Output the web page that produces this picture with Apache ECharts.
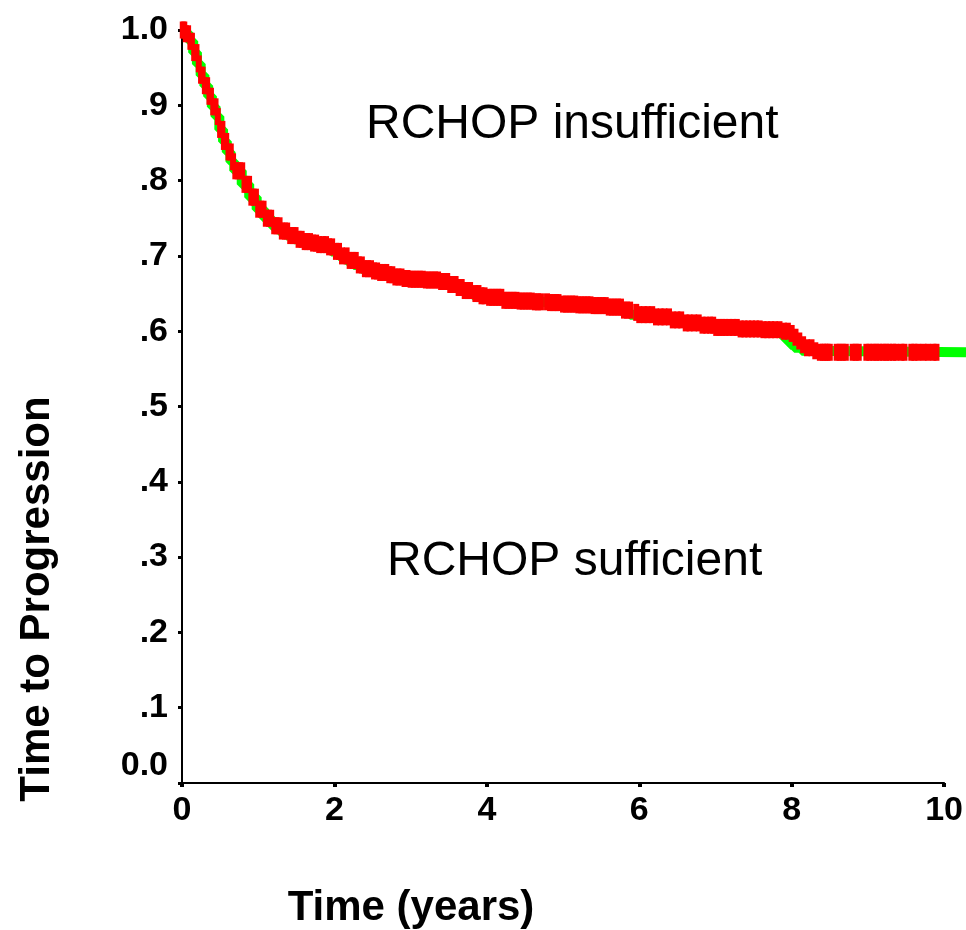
<!DOCTYPE html>
<html>
<head>
<meta charset="utf-8">
<script src="https://cdn.jsdelivr.net/npm/echarts@6/dist/echarts.min.js"></script>
<style>
html,body{margin:0;padding:0;background:#fff;}
#chart{width:966px;height:930px;}
</style>
</head>
<body>
<div id="chart"></div>
<script>
// Kaplan-Meier step curve: event times (years) and survival after each event
const kmTimes = [0,0.05,0.1,0.15,0.2,0.25,0.3,0.35,0.4,0.45,0.5,0.55,0.6,0.65,0.7,0.8,0.9,1.0,1.1,1.2,1.3,1.4,1.5,1.6,1.7,1.8,1.9,2.0,2.1,2.2,2.3,2.4,2.5,2.6,2.7,2.8,2.9,3.0,3.2,3.4,3.5,3.6,3.7,3.8,3.9,4.0,4.2,4.4,4.6,4.8,5.0,5.2,5.4,5.6,5.8,5.9,6.0,6.2,6.4,6.6,6.8,7.0,7.3,7.6,7.9,8.0,8.05,8.1,8.15,8.2,8.3,8.35,10.5];
const kmSurv  = [1.0,0.995,0.985,0.97,0.955,0.94,0.926,0.912,0.898,0.885,0.868,0.852,0.838,0.825,0.813,0.795,0.778,0.762,0.750,0.740,0.733,0.727,0.722,0.719,0.717,0.715,0.712,0.706,0.700,0.694,0.688,0.683,0.680,0.678,0.675,0.672,0.670,0.669,0.668,0.666,0.662,0.658,0.654,0.650,0.647,0.645,0.641,0.640,0.639,0.638,0.636,0.635,0.634,0.632,0.628,0.625,0.622,0.619,0.615,0.611,0.608,0.605,0.603,0.602,0.600,0.597,0.592,0.587,0.582,0.578,0.574,0.572,0.572];

// Censoring times (years)
const censorTimes = [
0.01,0.03,0.05,0.08,0.11,0.13,0.16,0.19,0.22,0.25,0.27,0.30,0.33,0.36,0.38,0.41,0.44,0.47,0.50,0.53,0.55,0.58,0.61,0.64,0.67,0.70,0.73,0.76,0.79,0.82,0.85,0.88,0.91,0.94,0.97,
1.00,1.04,1.07,1.10,1.14,1.17,1.21,1.24,1.28,1.31,1.35,1.38,1.42,1.46,1.49,1.53,1.57,1.61,1.64,1.68,1.72,1.76,1.80,1.85,1.89,1.93,1.97,
2.02,2.06,2.10,2.16,2.20,2.24,2.28,2.32,2.36,2.40,2.44,2.48,2.52,2.56,2.60,2.64,2.68,2.72,2.76,2.80,2.84,2.88,2.92,2.96,
3.00,3.04,3.08,3.12,3.16,3.20,3.24,3.28,3.32,3.36,3.40,3.44,3.48,3.52,3.59,3.63,3.67,3.71,3.75,3.78,3.85,3.89,3.93,3.97,
4.03,4.07,4.11,4.15,4.19,4.23,4.27,4.31,4.35,4.39,4.43,4.47,4.51,4.55,4.59,4.63,4.67,4.71,4.79,4.83,4.87,4.91,4.94,5.00,
5.04,5.08,5.12,5.16,5.20,5.24,5.28,5.32,5.36,5.40,5.44,5.48,5.52,5.56,5.60,5.64,5.68,5.72,5.76,5.80,5.84,5.88,5.96,
6.00,6.06,6.11,6.17,6.22,6.28,6.33,6.39,6.44,6.50,6.55,6.61,6.66,6.72,6.78,6.83,6.88,6.93,6.97,7.01,7.05,7.09,7.13,7.18,7.23,7.28,7.33,7.38,7.43,7.48,7.53,7.58,7.63,7.68,7.73,7.78,7.84,7.90,7.95,
8.00,8.05,8.10,8.15,8.20,8.26,8.31,
8.37,8.41,8.44,8.47,8.50,8.59,8.63,8.67,8.71,8.80,8.84,8.88,8.98,9.02,9.07,9.11,9.15,9.20,9.24,9.28,9.33,9.37,9.44,9.48,9.57,9.61,9.66,9.73,9.79,9.86,9.90
];

const xTickLabels = ['0','2','4','6','8','10'];
const yTickLabels = ['0.0','.1','.2','.3','.4','.5','.6','.7','.8','.9','1.0'];
const xTitle = 'Time (years)';
const yTitle = 'Time to Progression';
const labelUpper = 'RCHOP insufficient';
const labelLower = 'RCHOP sufficient';

function survAt(t){
  let s = kmSurv[0];
  for (let i = 0; i < kmTimes.length; i++) { if (kmTimes[i] <= t) s = kmSurv[i]; }
  return s;
}

const lineData = kmTimes.map((t,i)=>[t,kmSurv[i]]);
const censorData = censorTimes.map(t=>[t,survAt(t)]);

const FONT = 'Liberation Sans, Arial, Helvetica, sans-serif';
const chart = echarts.init(document.getElementById('chart'), null, {renderer:'canvas'});

const tickFont = {fontFamily: FONT, fontWeight:'bold', fontSize:34, color:'#000'};

// plot geometry
const GL = 182, GR = 19, GT = 30, GB = 147;
const plotW = 966 - GL - GR;            // width for 0..10 years
const LINE_MAX = 10.5;                  // curve continues past the axis end
const lineGridW = plotW * LINE_MAX / 10;

chart.setOption({
  animation:false,
  backgroundColor:'#fff',
  grid:[
    {left:GL, right:GR, top:GT, bottom:GB, containLabel:false},
    {left:GL, width:lineGridW, top:GT, bottom:GB, containLabel:false}
  ],
  xAxis:[
    {type:'value', gridIndex:0, min:0, max:10, interval:2,
     axisLine:{show:true, onZero:false, lineStyle:{color:'#000', width:2}},
     axisTick:{show:false}, splitLine:{show:false},
     axisLabel:Object.assign({margin:11, formatter:v=>xTickLabels[Math.round(v/2)]}, tickFont)},
    {type:'value', gridIndex:0, min:0, max:10, interval:2, position:'bottom', offset:3,
     axisLine:{show:false}, splitLine:{show:false},
     axisTick:{show:true, length:4, lineStyle:{color:'#000', width:4}},
     axisLabel:{show:false}},
    {type:'value', gridIndex:1, min:0, max:LINE_MAX, show:false}
  ],
  yAxis:[
    {type:'value', gridIndex:0, min:0, max:1, interval:0.1,
     axisLine:{show:true, onZero:false, lineStyle:{color:'#000', width:2}},
     axisTick:{show:false}, splitLine:{show:false},
     axisLabel:Object.assign({margin:14,
        formatter:v=>{const k=Math.round(v*10); return k===0?'{z|'+yTickLabels[0]+'}':yTickLabels[k];},
        rich:{z:Object.assign({padding:[0,0,34,0]}, tickFont)}}, tickFont)},
    {type:'value', gridIndex:0, min:0, max:1, interval:0.1, position:'left', offset:3,
     axisLine:{show:false}, splitLine:{show:false},
     axisTick:{show:true, length:4, lineStyle:{color:'#000', width:3}},
     axisLabel:{show:false}},
    {type:'value', gridIndex:1, min:0, max:1, show:false}
  ],
  series:[
    {type:'line', xAxisIndex:2, yAxisIndex:2, data:lineData, step:'end', showSymbol:false,
     lineStyle:{color:'#00ff00', width:10}, itemStyle:{color:'#00ff00'}, z:2},
    {type:'scatter', xAxisIndex:0, yAxisIndex:0, data:censorData, symbol:'rect', symbolSize:[6,17],
     itemStyle:{color:'#ff0000', opacity:1}, z:3}
  ],
  graphic:[
    {type:'text', x:37, y:599, rotation:Math.PI/2,
     style:{text:yTitle, fontFamily:FONT, fontWeight:'bold', fontSize:42, fill:'#000', align:'center', verticalAlign:'middle'}},
    {type:'text', x:411, y:908,
     style:{text:xTitle, fontFamily:FONT, fontWeight:'bold', fontSize:42, fill:'#000', align:'center', verticalAlign:'middle'}},
    {type:'text', x:366, y:125,
     style:{text:labelUpper, fontFamily:FONT, fontSize:48, fill:'#000', align:'left', verticalAlign:'middle'}},
    {type:'text', x:387, y:562,
     style:{text:labelLower, fontFamily:FONT, fontSize:48, fill:'#000', align:'left', verticalAlign:'middle'}}
  ]
});
</script>
</body>
</html>
